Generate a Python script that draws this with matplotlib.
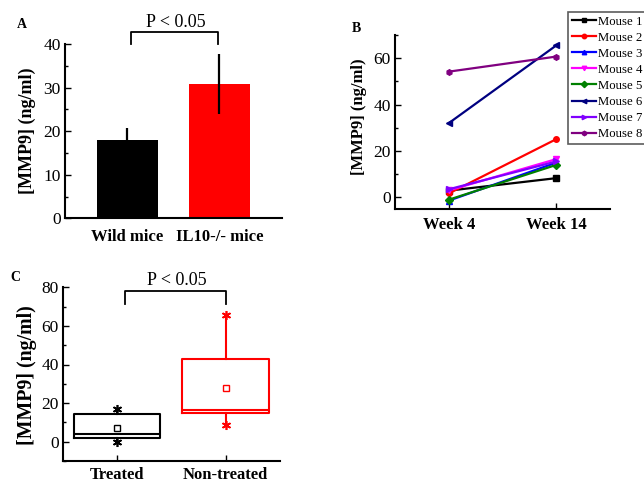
import matplotlib
matplotlib.use("Agg")
import matplotlib.pyplot as plt
from matplotlib.ticker import AutoMinorLocator, MultipleLocator

plt.rcParams['font.family'] = ['Liberation Serif', 'DejaVu Serif']

# ---------------- data ----------------
# Panel A
a_groups = ["Wild mice", "IL10-/- mice"]
a_means = [17.9, 30.8]
a_err = [2.8, 6.8]
a_colors = ["black", "red"]

# Panel B
b_weeks = ["Week 4", "Week 14"]
b_mice = ["Mouse 1", "Mouse 2", "Mouse 3", "Mouse 4",
          "Mouse 5", "Mouse 6", "Mouse 7", "Mouse 8"]
b_week4 = [2.9, 1.7, -1.4, 3.0, -1.0, 32.0, 3.5, 54.2]
b_week14 = [8.3, 25.1, 15.0, 16.5, 14.0, 65.5, 15.5, 60.7]
b_colors = ["#000000", "#FF0000", "#0000FF", "#FF00FF",
            "#008000", "#000080", "#8000FF", "#800080"]
b_markers = ["s", "o", "^", "v", "D", "<", ">", "h"]

# Panel C
c_groups = ["Treated", "Non-treated"]
c_q1 = [1.7, 15.0]
c_med = [3.8, 16.2]
c_q3 = [14.1, 43.0]
c_mean = [6.9, 27.9]
c_min = [-0.2, 8.9]
c_max = [16.7, 65.7]
c_colors = ["black", "red"]

fig = plt.figure(figsize=(6.44, 4.82), dpi=100)
W, H = 644.0, 482.0


def axes_px(l, r, b, t):
    return fig.add_axes([l / W, 1 - b / H, (r - l) / W, (b - t) / H])


def style(ax, xpad):
    for s in ("top", "right"):
        ax.spines[s].set_visible(False)
    for s in ("left", "bottom"):
        ax.spines[s].set_linewidth(1.5)
    ax.yaxis.set_minor_locator(AutoMinorLocator(2))
    ax.tick_params(axis="y", which="major", direction="in", length=4, width=1,
                   labelsize=12.5, pad=3)
    ax.tick_params(axis="y", which="minor", direction="in", length=2, width=1)
    ax.tick_params(axis="x", which="major", direction="in", length=4, width=1,
                   labelsize=12, pad=xpad)
    for lab in ax.get_xticklabels():
        lab.set_fontweight("bold")


# ---------------- Panel A ----------------
axA = axes_px(65, 281.7, 218.3, 44)
xa = [1, 2]
axA.bar(xa, a_means, width=0.67, color=a_colors, zorder=2)
axA.errorbar(xa, a_means, yerr=a_err, fmt="none", ecolor="black",
             elinewidth=1.6, capsize=0, zorder=3)
axA.set_xlim(0.32, 2.68)
axA.set_ylim(0, 40)
axA.yaxis.set_major_locator(MultipleLocator(10))
axA.set_xticks(xa)
axA.set_xticklabels(a_groups)
axA.tick_params(axis="x", length=0)
style(axA, 7.5)
axA.set_ylabel("[MMP9] (ng/ml)", fontsize=13, fontweight="bold")
axA.yaxis.set_label_coords(-0.135, 0.5)
axA.plot([1.04, 1.04, 1.99, 1.99], [40.0, 42.75, 42.75, 40.0], color="black",
         lw=1.3, clip_on=False)
axA.text(1.53, 45.0, "P < 0.05", ha="center", va="center", fontsize=13,
         clip_on=False)
fig.text(17 / W, 1 - 28.5 / H, "A", fontsize=10, fontweight="bold")

# ---------------- Panel B ----------------
axB = axes_px(395, 610, 209, 35)
xb = [0, 1]
for i in range(len(b_mice)):
    axB.plot(xb, [b_week4[i], b_week14[i]], color=b_colors[i],
             marker=b_markers[i], markersize=4, lw=1.6, label=b_mice[i],
             clip_on=False)
axB.set_xlim(-0.5, 1.5)
axB.set_ylim(-5, 70)
axB.yaxis.set_major_locator(MultipleLocator(20))
axB.set_xticks(xb)
axB.set_xticklabels(b_weeks)
style(axB, 6)
axB.set_ylabel("[MMP9] (ng/ml)", fontsize=12, fontweight="bold")
axB.yaxis.set_label_coords(-0.132, 0.53)
leg = axB.legend(loc="upper left", bbox_to_anchor=(568.3 / W, 1 - 11.7 / H),
                 bbox_transform=fig.transFigure, borderaxespad=0,
                 fontsize=9.2, frameon=True, fancybox=False,
                 handlelength=1.85, handletextpad=0.15, labelspacing=0.32,
                 borderpad=0.3, markerscale=0.8)
leg.get_frame().set_edgecolor("#333333")
leg.get_frame().set_linewidth(1.2)
fig.text(351.5 / W, 1 - 32.3 / H, "B", fontsize=10, fontweight="bold")

# ---------------- Panel C ----------------
axC = axes_px(62.7, 280, 461, 287.3)
for i in range(len(c_groups)):
    st = [dict(med=c_med[i], q1=c_q1[i], q3=c_q3[i], mean=c_mean[i],
               whislo=c_min[i], whishi=c_max[i],
               fliers=[c_min[i], c_max[i]], label=c_groups[i])]
    col = c_colors[i]
    axC.bxp(st, positions=[i + 1], widths=0.8, showmeans=True, showcaps=False,
            showfliers=True, manage_ticks=False,
            boxprops=dict(color=col, lw=1.5),
            whiskerprops=dict(color=col, lw=1.5),
            medianprops=dict(color=col, lw=1.5),
            meanprops=dict(marker="s", markerfacecolor="white",
                           markeredgecolor=col, markersize=3.8, mew=1),
            flierprops=dict(marker=(6, 2, 0), markeredgecolor=col,
                            markersize=6.5, mew=1.2, linestyle="none"))
axC.set_xlim(0.5, 2.5)
axC.set_ylim(-10, 80)
axC.set_yticks([0, 20, 40, 60, 80])
axC.set_xticks([1, 2])
axC.set_xticklabels(c_groups)
style(axC, 4)
axC.set_ylabel("[MMP9] (ng/ml)", fontsize=14.3, fontweight="bold")
axC.yaxis.set_label_coords(-0.118, 0.495)
axC.plot([1.075, 1.075, 2.0, 2.0], [71.2, 78.1, 78.1, 71.2], color="black",
         lw=1.3, clip_on=False)
axC.text(1.55, 83.5, "P < 0.05", ha="center", va="center", fontsize=13,
         clip_on=False)
fig.text(10 / W, 1 - 280.7 / H, "C", fontsize=10, fontweight="bold")

fig.savefig("out.png", dpi=100)
